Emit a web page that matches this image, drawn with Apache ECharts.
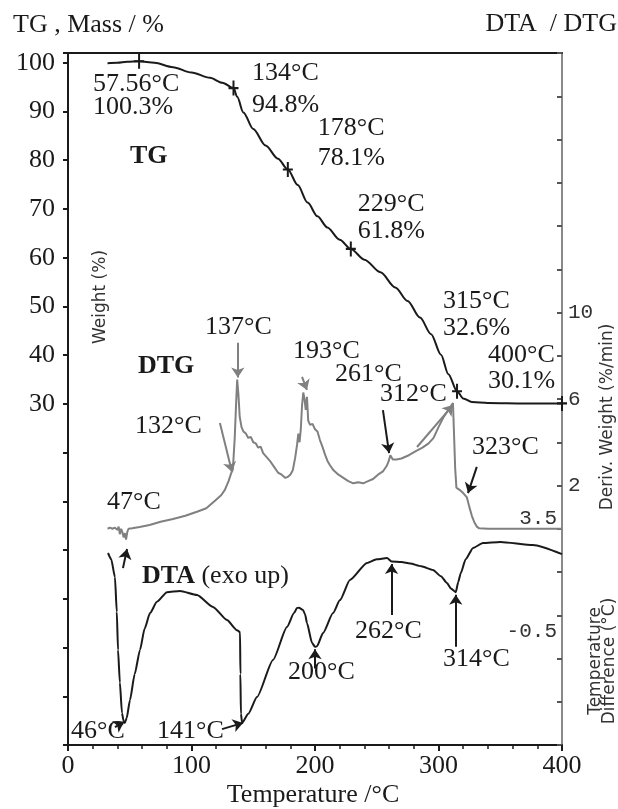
<!DOCTYPE html>
<html>
<head>
<meta charset="utf-8">
<script src="https://cdn.jsdelivr.net/npm/echarts@6/dist/echarts.min.js"></script>
<style>
  html, body { margin: 0; padding: 0; background: #fff; }
  #chart { width: 618px; height: 809px; }
</style>
</head>
<body>
<div id="chart"></div>
<script>
// ---- data (temperature in °C) ----
// TG: mass remaining, %
const tgCurve = [
  [32, 99.9], [40, 100.0], [48, 100.2], [57.56, 100.3], [70, 100.0], [85, 99.1], [100, 98.0],
  [115, 96.9], [125, 95.9], [134, 94.8], [137, 93.0], [142, 89.8], [150, 86.4], [160, 83.0],
  [170, 80.3], [178, 78.1], [186, 74.9], [194, 71.3], [202, 68.5], [210, 66.2], [220, 63.7],
  [229, 61.8], [240, 59.6], [253, 57.0], [265, 53.9], [275, 51.1], [285, 47.7], [294, 44.3],
  [302, 40.1], [308, 36.1], [315, 32.6], [320, 31.1], [327, 30.4], [340, 30.2], [370, 30.1], [400, 30.1]
];
const tgPoints = [[57.56, 100.3], [134, 94.8], [178, 78.1], [229, 61.8], [315, 32.6], [400, 30.1]];

// DTG: derivative weight, %/min
const dtgCurve = [
  [32, 0.0], [34, 0.05], [36, 0.0], [38, 0.05], [40, -0.05], [41, 0.1], [42, -0.25], [43, 0.0],
  [44, -0.15], [45, -0.4], [46, -0.2], [47, -0.5], [48, -0.15], [49, 0.0], [52, 0.02], [58, 0.08],
  [66, 0.17], [75, 0.32], [85, 0.45], [95, 0.6], [105, 0.8], [112, 0.95], [119, 1.3], [124, 1.55],
  [127, 1.8], [130, 2.2], [132, 2.55], [133.5, 2.75], [135, 4.2], [136.2, 5.9], [137, 6.9], [138, 6.2],
  [139, 5.2], [140.5, 4.7], [142, 4.5], [144, 4.4], [146, 4.2], [148, 4.25], [150, 4.0], [152, 3.95],
  [154, 3.75], [156, 3.8], [158, 3.5], [161, 3.3], [164, 3.1], [167, 2.85], [170, 2.6], [173, 2.5],
  [176, 2.35], [178, 2.4], [180, 2.5], [182, 2.7], [184, 3.3], [185.5, 3.9], [186.5, 4.4], [187.5, 4.0],
  [188.5, 4.6], [189.5, 5.7], [190.5, 6.3], [191.5, 6.0], [192.5, 5.5], [193.5, 6.1], [194.5, 5.0],
  [196, 4.8], [198, 4.85], [200, 4.6], [202, 4.5], [204, 4.1], [206, 3.8], [208, 3.45], [210, 3.15],
  [212, 2.95], [215, 2.7], [219, 2.5], [223, 2.35], [227, 2.2], [231, 2.1], [235, 2.15], [239, 2.1],
  [243, 2.2], [247, 2.3], [251, 2.5], [255, 2.65], [258, 2.9], [259.5, 3.1], [261, 3.4], [263, 3.2],
  [266, 3.2], [270, 3.25], [276, 3.4], [282, 3.6], [287, 3.75], [292, 3.95], [296, 4.2], [300, 4.7],
  [304, 5.15], [308, 5.5], [311.7, 5.81], [312.5, 4.5], [313.5, 2.8], [314.5, 1.9], [317, 1.8],
  [320, 1.65], [323, 1.45], [325, 1.0], [327, 0.6], [329, 0.3], [331, 0.1], [333, 0.02], [340, 0.0],
  [360, 0.0], [380, 0.0], [400, 0.0]
];

// DTA: temperature difference, °C (exo up)
const dtaCurve = [
  [32.4, 2.27], [35, 2.05], [38, 1.42], [39.5, 0.2], [40.5, -1.15], [42, -2.3], [43.7, -3.37],
  [45, -3.65], [46, -3.72], [47.5, -3.55], [50.2, -2.91], [54, -2.0], [58.3, -1.15], [62, -0.4],
  [66.4, 0.15], [72, 0.55], [80.2, 0.89], [90.7, 0.93], [104.5, 0.79], [117.4, 0.37], [128.7, -0.09],
  [136.8, -0.45], [139.3, -0.52], [139.6, -2.0], [140, -3.4], [141, -3.72], [146, -3.4], [153, -2.81],
  [166, -1.5], [177.3, -0.34], [183, 0.15], [185.4, 0.33], [187, 0.34], [190.3, 0.26], [192, 0.1],
  [193.5, -0.2], [197.6, -0.9], [200, -1.04], [201.6, -1.02], [206.5, -0.55], [214.6, 0.15],
  [220.2, 0.61], [228.3, 1.32], [242.1, 1.92], [250, 2.05], [258.3, 2.09], [262, 1.97], [270, 1.95],
  [277, 1.9], [286, 1.8], [295.5, 1.67], [302, 1.45], [306.9, 1.21], [310, 1.02], [314, 0.89],
  [316, 1.25], [318, 1.56], [322, 2.05], [328, 2.45], [336, 2.62], [350, 2.66], [376.5, 2.55], [400, 2.23]
];

// tick labels shown on the value axes
const xTicks = [0, 100, 200, 300, 400];
const tgTicks = [30, 40, 50, 60, 70, 80, 90, 100];
const dtgTicks = [10, 6, 2];
const dtaTicks = [3.5, -0.5];

// peak annotations: [tail T, tail value], [head T, head value]
const dtgArrows = [
  [[44.5, -1.82], [47.8, -0.94]],
  [[123, 4.89], [132.8, 2.62]],
  [[137.5, 8.6], [137.5, 7.0]],
  [[189.5, 7.02], [193.5, 6.42]],
  [[255, 5.49], [260, 3.5]],
  [[331, 2.86], [323.9, 1.65]]
];
const dtgCurvedArrows = [
  [[282.6, 3.78], [311.7, 5.72]]
];
const dtaArrows = [
  [[38, -3.87], [45.3, -3.69]],
  [[124.7, -3.94], [141.7, -3.72]],
  [[200, -1.8], [200, -1.12]],
  [[262, 0.08], [262, 1.88]],
  [[314, -1.04], [314, 0.8]]
];

// ---- styling / layout ----
const SERIF = '"Liberation Serif", "Times New Roman", serif';
const SANS = '"DejaVu Sans", sans-serif';
const INK = '#1a1a1a';
const GREY = '#808080';

// arrow colours, in the order of the arrow lists
const dtgArrowColors = [INK, GREY, GREY, GREY, INK, INK];

// label placement for the TG marks: [dx, dy, lineHeight]
const tgLabelLayout = [
  [-41, 19, 23], [23.5, -23.3, 32], [35, -48.6, 30], [12, -50.5, 27], [-9, -95.8, 27], [-69, -53.4, 26]
];

const chart = echarts.init(document.getElementById('chart'), null, { renderer: 'canvas' });

function txt(x, y, text, opts) {
  opts = opts || {};
  return {
    type: 'text', x: x, y: y, rotation: opts.rotation || 0, silent: true,
    style: {
      text: text,
      font: (opts.bold ? 'bold ' : '') + (opts.size || 26) + 'px ' + (opts.family || SERIF),
      fill: opts.color || INK,
      align: opts.align || 'left',
      verticalAlign: 'middle',
      lineHeight: opts.lineHeight
    }
  };
}

function arrowLines(list, colors) {
  return list.map(function (a, i) {
    return [
      { coord: a[0], lineStyle: { color: colors[i], width: 2, type: 'solid' } },
      { coord: a[1] }
    ];
  });
}

const tgLabelStyle = {
  fontFamily: SERIF, fontSize: 26, color: INK, align: 'left', verticalAlign: 'top',
  textBorderWidth: 0, textBorderColor: 'transparent', textShadowBlur: 0
};

const option = {
  animation: false,
  backgroundColor: '#fff',
  grid: { left: 68, right: 56, top: 53, bottom: 64 },
  xAxis: [
    {
      type: 'value', min: 0, max: 400, interval: 100,
      axisLine: { onZero: false, lineStyle: { color: INK, width: 2 } },
      axisTick: { show: true, length: 6, lineStyle: { color: INK, width: 2 } },
      minorTick: { show: true, splitNumber: 5, length: 4, lineStyle: { color: INK, width: 1.5 } },
      axisLabel: {
        margin: 8, fontFamily: SERIF, fontSize: 26, color: INK,
        formatter: function (v) { return xTicks.indexOf(v) >= 0 ? String(v) : ''; }
      },
      splitLine: { show: false }
    },
    {
      type: 'value', position: 'top', min: 0, max: 400,
      axisLine: { onZero: false, lineStyle: { color: INK, width: 2 } },
      axisTick: { show: false }, axisLabel: { show: false }, splitLine: { show: false }
    }
  ],
  yAxis: [
    {
      type: 'value', position: 'left', min: -40, max: 102, interval: 10,
      axisLine: { show: true, onZero: false, lineStyle: { color: INK, width: 2 } },
      axisTick: { show: true, length: 5, lineStyle: { color: INK, width: 2 } },
      axisLabel: {
        margin: 13, fontFamily: SERIF, fontSize: 26, color: INK,
        formatter: function (v) { return tgTicks.indexOf(v) >= 0 ? String(v) : ''; }
      },
      splitLine: { show: false }
    },
    {
      type: 'value', position: 'right', min: -10, max: 22, interval: 2,
      axisLine: { show: true, onZero: false, lineStyle: { color: '#8a8a8a', width: 2 } },
      axisTick: { show: true, inside: true, length: 5, lineStyle: { color: '#555', width: 2 } },
      axisLabel: {
        margin: 6, fontFamily: '"Liberation Mono", monospace', fontSize: 21, color: '#333',
        formatter: function (v) { return dtgTicks.indexOf(v) >= 0 ? String(v) : ''; }
      },
      splitLine: { show: false }
    },
    {
      type: 'value', position: 'right', min: -4.5, max: 19.9, interval: 0.5,
      axisLine: { show: false, onZero: false }, axisTick: { show: false },
      axisLabel: {
        inside: true, margin: 5, fontFamily: '"Liberation Mono", monospace', fontSize: 21, color: '#333',
        formatter: function (v) { return dtaTicks.indexOf(v) >= 0 ? String(v) : ''; }
      },
      splitLine: { show: false }
    }
  ],
  series: [
    {
      name: 'TG', type: 'line', xAxisIndex: 0, yAxisIndex: 0, data: tgCurve,
      smooth: 0.3, smoothMonotone: 'x', showSymbol: false, silent: true,
      lineStyle: { color: INK, width: 2 }, z: 4
    },
    {
      name: 'TG marks', type: 'scatter', xAxisIndex: 0, yAxisIndex: 0,
      symbol: 'path://M4,0h2v14h-2z M0,6h10v2h-10z', symbolSize: [10, 15],
      itemStyle: { color: INK, opacity: 1 }, silent: true, z: 5,
      data: tgPoints.map(function (p, i) {
        const l = tgLabelLayout[i];
        return {
          value: p,
          label: Object.assign({ show: true, position: [l[0], l[1]], lineHeight: l[2] }, tgLabelStyle)
        };
      }),
      label: Object.assign({
        show: true,
        formatter: function (p) { return p.value[0] + '°C\n' + p.value[1] + '%'; }
      }, tgLabelStyle),
      labelLayout: { hideOverlap: false }
    },
    {
      name: 'DTG', type: 'line', xAxisIndex: 0, yAxisIndex: 1, data: dtgCurve,
      showSymbol: false, silent: true, lineStyle: { color: GREY, width: 2 }, z: 3,
      markLine: {
        silent: true, symbol: ['none', 'arrow'], symbolSize: 10, label: { show: false },
        data: arrowLines(dtgArrows, dtgArrowColors)
      }
    },
    {
      // curved pointer to the 312 °C DTG maximum
      name: 'DTG pointer', type: 'line', xAxisIndex: 0, yAxisIndex: 1, data: [],
      silent: true, z: 3,
      markLine: {
        silent: true, symbol: ['none', 'arrow'], symbolSize: 10, label: { show: false },
        lineStyle: { color: GREY, width: 2, type: 'solid', curveness: -0.35 },
        data: dtgCurvedArrows.map(function (a) { return [{ coord: a[0] }, { coord: a[1] }]; })
      }
    },
    {
      name: 'DTA', type: 'line', xAxisIndex: 0, yAxisIndex: 2, data: dtaCurve,
      smooth: 0.2, smoothMonotone: 'x', showSymbol: false, silent: true,
      lineStyle: { color: INK, width: 2 }, z: 3,
      markLine: {
        silent: true, symbol: ['none', 'arrow'], symbolSize: 10, label: { show: false },
        data: arrowLines(dtaArrows, dtaArrows.map(function () { return INK; }))
      }
    }
  ],
  graphic: [
    txt(13, 25, 'TG , Mass / %'),
    txt(617, 24, 'DTA  / DTG', { align: 'right' }),
    txt(313, 795, 'Temperature /°C', { align: 'center' }),

    txt(130, 156, 'TG', { bold: true }),
    txt(138, 366, 'DTG', { bold: true }),
    {
      type: 'text', x: 142, y: 576, silent: true,
      style: {
        text: '{b|DTA} (exo up)', verticalAlign: 'middle',
        font: '26px ' + SERIF, fill: INK,
        rich: { b: { fontWeight: 'bold', fontFamily: SERIF, fontSize: 26, fill: INK } }
      }
    },

    txt(205, 327, '137°C'),
    txt(293, 351, '193°C'),
    txt(135, 426, '132°C'),
    txt(335, 374, '261°C'),
    txt(380, 394, '312°C'),
    txt(472, 447, '323°C'),
    txt(107, 502, '47°C'),

    txt(71, 731, '46°C'),
    txt(157, 731, '141°C'),
    txt(288, 672, '200°C'),
    txt(355, 631, '262°C'),
    txt(443, 659, '314°C'),

    txt(101, 297, 'Weight (%)', { family: SANS, size: 17, color: '#333', align: 'center', rotation: Math.PI / 2 }),
    txt(608, 417, 'Deriv. Weight (%/min)', { family: SANS, size: 17, color: '#333', align: 'center', rotation: Math.PI / 2 }),
    txt(603, 661, 'Temperature\nDifference (°C)', { family: SANS, size: 17, color: '#333', align: 'center', rotation: Math.PI / 2, lineHeight: 14 })
  ]
};

chart.setOption(option);
</script>
</body>
</html>
